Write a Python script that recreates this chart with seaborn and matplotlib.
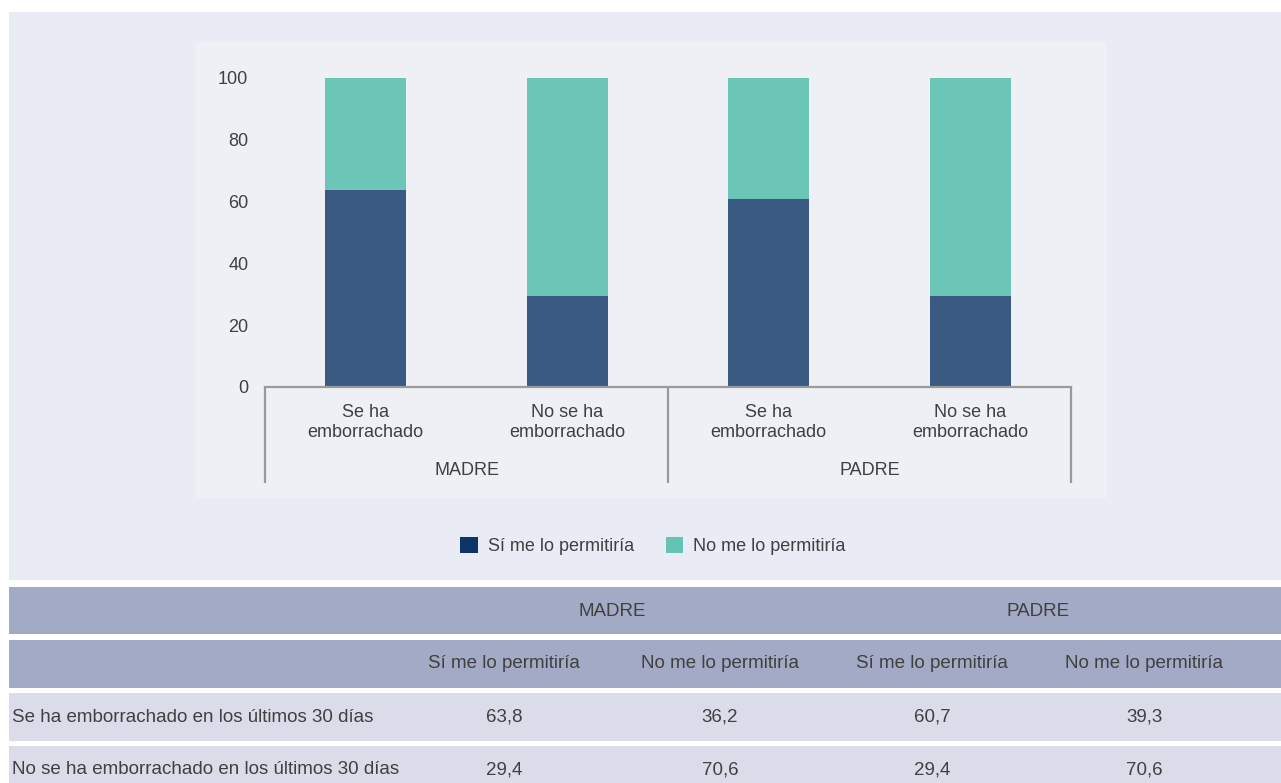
import numpy as np
import pandas as pd
import matplotlib
matplotlib.use("Agg")
import matplotlib.pyplot as plt
from matplotlib.patches import Rectangle, Patch
import seaborn as sns

# -------------------------------
# Datos
# -------------------------------
grupos = ["MADRE", "PADRE"]
estados = ["Se ha\nemborrachado", "No se ha\nemborrachado"]
filas_tabla = ["Se ha emborrachado en los últimos 30 días",
               "No se ha emborrachado en los últimos 30 días"]
series = ["Sí me lo permitiría", "No me lo permitiría"]
si_permitiria = [63.8, 29.4, 60.7, 29.4]   # MADRE se ha, MADRE no se ha, PADRE se ha, PADRE no se ha
no_permitiria = [36.2, 70.6, 39.3, 70.6]
y_ticks = [0, 20, 40, 60, 80, 100]

df = pd.DataFrame({
    "grupo": np.repeat(grupos, len(estados)),
    "estado": estados * len(grupos),
    "si": si_permitiria,
    "no": no_permitiria,
})
df["clave"] = df["grupo"] + " | " + df["estado"]
df["total"] = df["si"] + df["no"]

# -------------------------------
# Estilo
# -------------------------------
sns.set_style("white")
plt.rcParams["font.family"] = ["Liberation Sans", "DejaVu Sans"]
txt = "#404040"
c_dark = "#0f3466"      # leyenda
c_teal = "#65c3b5"
c_dark_bar = "#3b5a82"  # barras (mas claras que la leyenda)
c_teal_bar = "#6cc6b8"

W, H = 1281, 783
fig = plt.figure(figsize=(W / 100, H / 100), dpi=100)
fig.patch.set_facecolor("white")


def rect_px(x0, y0, x1, y1, color, z):
    # rectangulo en pixeles (origen arriba-izquierda)
    fig.add_artist(Rectangle((x0 / W, 1 - y1 / H), (x1 - x0) / W, (y1 - y0) / H,
                             transform=fig.transFigure, facecolor=color,
                             edgecolor="none", zorder=z))


rect_px(9, 12, W, 580, "#e9ecf4", -3)
rect_px(196, 42, 1107, 498, "#eef0f5", -2)

# -------------------------------
# Grafico de barras apiladas
# -------------------------------
ax_l, ax_r, ax_t, ax_b = 265, 1071, 78, 387
ax = fig.add_axes([ax_l / W, 1 - ax_b / H, (ax_r - ax_l) / W, (ax_b - ax_t) / H])
ax.patch.set_visible(False)

sns.barplot(data=df, x="clave", y="total", color=c_teal_bar, saturation=1,
            width=0.4, linewidth=0, errorbar=None, ax=ax)
sns.barplot(data=df, x="clave", y="si", color=c_dark_bar, saturation=1,
            width=0.4, linewidth=0, errorbar=None, ax=ax)

ax.set_ylim(0, 100)
ax.set_xlim(-0.5, len(df) - 0.5)
ax.set_yticks(y_ticks)
ax.set_yticklabels([str(v) for v in y_ticks], fontsize=13, color=txt)
ax.set_xticks(range(len(df)))
ax.set_xticklabels(df["estado"], fontsize=13, color=txt, linespacing=1.25)
ax.tick_params(axis="y", length=0, pad=12)
ax.tick_params(axis="x", length=0, pad=12)
ax.set_xlabel("")
ax.set_ylabel("")
for s in ["top", "right", "left"]:
    ax.spines[s].set_visible(False)
ax.spines["bottom"].set_color("#9a9a9a")
ax.spines["bottom"].set_linewidth(1.6)

# separadores de grupo
h_ax = ax_b - ax_t
y_low = -(483 - ax_b) / h_ax
for xs in [0, 0.5, 1]:
    ax.plot([xs, xs], [0, y_low], transform=ax.transAxes, color="#9a9a9a",
            lw=1.6, clip_on=False, solid_capstyle="butt")
for i, g in enumerate(grupos):
    ax.text((i + 0.5) / len(grupos), -(471 - ax_b) / h_ax, g, transform=ax.transAxes,
            ha="center", va="center", fontsize=13, color=txt)

# leyenda
handles = [Patch(facecolor=c_dark, edgecolor="none"),
           Patch(facecolor=c_teal, edgecolor="none")]
fig.legend(handles, series, loc="center", bbox_to_anchor=(653 / W, 1 - 546 / H),
           ncol=2, frameon=False, fontsize=13, handlelength=0.95, handleheight=0.95,
           handletextpad=0.55, columnspacing=1.8, labelcolor=txt)

# -------------------------------
# Tabla
# -------------------------------
c_head = "#a3aac6"
c_row = "#dadde9"
rect_px(9, 587, W, 634, c_head, -1)
rect_px(9, 640, W, 688, c_head, -1)
rect_px(9, 693, W, 741, c_row, -1)
rect_px(9, 746, W, H + 5, c_row, -1)

col_x = [504, 720, 932, 1144]
fs_t = 13.5
for i, g in enumerate(grupos):
    xc = (col_x[2 * i] + col_x[2 * i + 1]) / 2
    fig.text(xc / W, 1 - 611 / H, g, ha="center", va="center", fontsize=fs_t, color=txt)
for j, xc in enumerate(col_x):
    fig.text(xc / W, 1 - 664 / H, series[j % 2], ha="center", va="center",
             fontsize=fs_t, color=txt)

for r, fila in enumerate(filas_tabla):
    yc = [717, 770][r]
    fig.text(12 / W, 1 - yc / H, fila, ha="left", va="center", fontsize=fs_t, color=txt)
    vals = []
    for gi in range(len(grupos)):
        k = gi * len(estados) + r
        vals += [si_permitiria[k], no_permitiria[k]]
    for xc, v in zip(col_x, vals):
        fig.text(xc / W, 1 - yc / H, f"{v:.1f}".replace(".", ","), ha="center",
                 va="center", fontsize=fs_t, color=txt)

fig.savefig("out.png", dpi=100, facecolor=fig.get_facecolor())
